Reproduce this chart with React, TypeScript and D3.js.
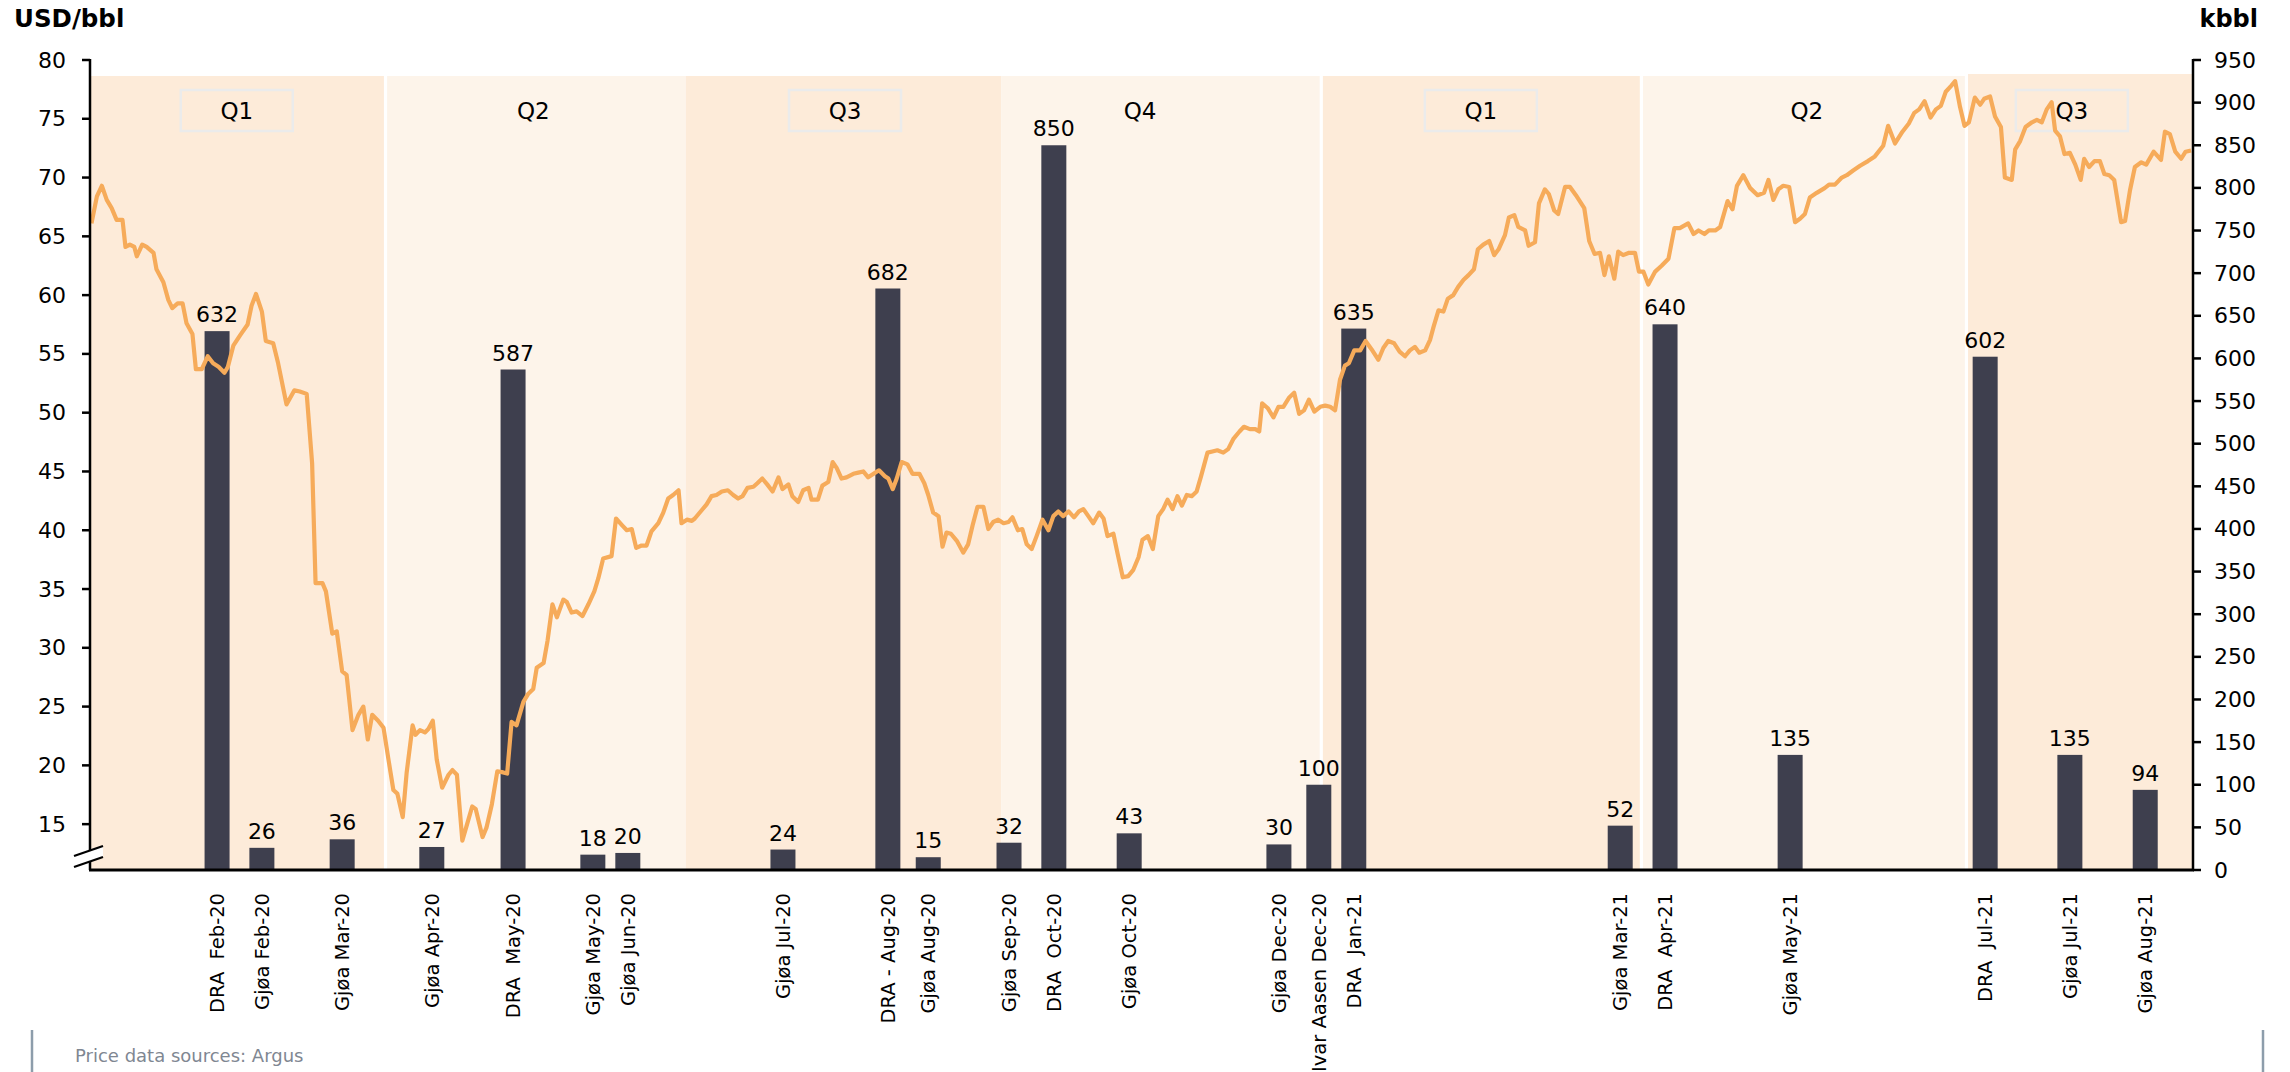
import React from "react";
import * as d3 from "d3";

const QUARTER_NAMES = ["Q1", "Q2", "Q3", "Q4", "Q1", "Q2", "Q3"];
// quarter boundaries on the trading-day index axis
const QUARTER_BOUNDS = [0, 60, 121, 185, 250, 315, 381, 427];
const QUARTER_LABEL_POS = [29.8, 90, 153.3, 213.2, 282.4, 348.6, 402.4];
const QUARTER_BOXED = [true, false, true, false, true, false, true];
const QUARTER_DARK = [true, false, true, false, true, false, true];
const QUARTER_GAP_AFTER = [true, false, false, true, true, true, false];

const CARGO_LABELS = [
  "DRA  Feb-20", "Gjøa Feb-20", "Gjøa Mar-20", "Gjøa Apr-20", "DRA  May-20",
  "Gjøa May-20", "Gjøa Jun-20", "Gjøa Jul-20", "DRA - Aug-20", "Gjøa Aug-20",
  "Gjøa Sep-20", "DRA  Oct-20", "Gjøa Oct-20", "Gjøa Dec-20", "Ivar Aasen Dec-20",
  "DRA  Jan-21", "Gjøa Mar-21", "DRA  Apr-21", "Gjøa May-21", "DRA  Jul-21",
  "Gjøa Jul-21", "Gjøa Aug-21",
];
const CARGO_POS = [
  25.8, 34.9, 51.2, 69.4, 85.9, 102.1, 109.2, 140.7, 162.0, 170.2, 186.6, 195.7,
  211.0, 241.4, 249.5, 256.6, 310.7, 319.8, 345.2, 384.8, 402.0, 417.3,
];
const CARGO_KBBL = [
  632, 26, 36, 27, 587, 18, 20, 24, 682, 15, 32, 850, 43, 30, 100, 635, 52, 640,
  135, 602, 135, 94,
];

const LEFT_TICKS = [15, 20, 25, 30, 35, 40, 45, 50, 55, 60, 65, 70, 75, 80];
const RIGHT_TICKS = [0, 50, 100, 150, 200, 250, 300, 350, 400, 450, 500, 550, 600, 650, 700, 750, 800, 850, 900, 950];

// price series: [trading-day index, USD/bbl]
const PRICE: [number, number][] = [
  [0.3,66.1],[1.4,68.4],[2.4,69.3],[3.4,68.1],[4.4,67.4],[5.4,66.4],[6.6,66.4],[7.2,64.1],[8.1,64.3],[9.0,64.1],
  [9.5,63.3],[10.6,64.3],[11.5,64.1],[12.9,63.6],[13.5,62.2],[14.9,61.1],[15.9,59.6],[16.7,58.9],[17.8,59.3],[18.8,59.3],
  [19.6,57.6],[20.8,56.7],[21.5,53.7],[22.7,53.7],[23.9,54.8],[25.0,54.2],[26.1,53.9],[27.3,53.4],[28.0,53.9],[29.1,55.7],
  [30.5,56.6],[32.0,57.5],[32.8,59.1],[33.7,60.1],[34.9,58.6],[35.7,56.1],[37.2,55.9],[38.2,54.2],[39.9,50.7],[41.5,51.9],
  [42.6,51.8],[44.0,51.6],[45.1,45.7],[45.8,35.5],[47.2,35.5],[47.9,34.8],[49.2,31.2],[50.1,31.4],[51.2,28.0],[52.1,27.7],
  [53.3,23.0],[54.5,24.3],[55.5,25.0],[56.4,22.2],[57.3,24.3],[58.5,23.8],[59.6,23.2],[60.6,20.5],[61.6,17.9],[62.4,17.6],
  [63.5,15.6],[64.3,19.4],[65.5,23.4],[66.1,22.6],[67.0,23.0],[68.0,22.8],[68.7,23.1],[69.6,23.8],[70.4,20.5],[71.5,18.1],
  [72.8,19.2],[73.6,19.6],[74.5,19.2],[75.6,13.6],[76.7,15.2],[77.6,16.5],[78.3,16.3],[79.7,13.9],[80.5,14.7],[81.6,16.7],
  [82.7,19.5],[83.9,19.4],[84.7,19.3],[85.6,23.7],[86.6,23.4],[88.0,25.4],[89.0,26.1],[90.0,26.5],[90.7,28.3],[92.1,28.7],
  [92.9,30.6],[93.9,33.7],[94.8,32.6],[96.1,34.1],[96.8,33.9],[97.8,33.0],[98.8,33.1],[100.0,32.7],[101.2,33.7],[102.4,34.8],
  [103.2,35.9],[104.2,37.6],[105.9,37.8],[106.8,41.0],[108.1,40.4],[109.0,40.0],[110.0,40.1],[110.9,38.5],[112.0,38.7],[113.0,38.7],
  [114.0,39.9],[115.4,40.6],[116.4,41.5],[117.4,42.7],[118.4,43.0],[119.5,43.4],[120.1,40.6],[121.2,40.9],[122.2,40.8],[122.8,41.0],
  [124.2,41.7],[125.2,42.2],[126.2,42.9],[127.2,43.0],[128.3,43.3],[129.5,43.4],[130.6,43.0],[131.6,42.7],[132.5,42.9],[133.5,43.6],
  [134.7,43.7],[135.5,44.0],[136.5,44.4],[137.5,43.9],[138.6,43.3],[139.8,44.5],[140.6,43.5],[141.8,43.9],[142.6,42.9],[143.8,42.4],
  [144.8,43.4],[145.9,43.6],[146.5,42.6],[147.8,42.6],[148.7,43.8],[149.9,44.1],[150.8,45.8],[151.6,45.3],[152.6,44.4],[153.6,44.5],
  [155.0,44.8],[156.0,44.9],[157.0,45.0],[158.0,44.5],[159.1,44.8],[160.2,45.1],[161.4,44.6],[162.1,44.4],[163.0,43.5],[163.8,44.4],
  [164.8,45.8],[166.0,45.6],[167.0,44.8],[168.4,44.8],[169.4,44.0],[170.2,43.0],[171.2,41.5],[172.3,41.2],[173.1,38.6],[173.9,39.8],
  [174.8,39.7],[176.0,39.1],[177.3,38.1],[178.3,38.8],[179.2,40.4],[180.2,42.0],[181.4,42.0],[182.4,40.1],[183.4,40.7],[184.4,40.9],
  [185.5,40.6],[186.5,40.7],[187.3,41.1],[188.4,40.0],[189.3,40.1],[190.2,38.8],[191.2,38.4],[192.2,39.5],[193.4,40.9],[194.6,40.0],
  [195.6,41.2],[196.6,41.6],[197.6,41.2],[198.7,41.6],[199.8,41.1],[200.8,41.6],[201.7,41.8],[202.7,41.2],[203.7,40.6],[204.9,41.5],
  [205.8,41.0],[206.6,39.5],[207.8,39.7],[208.6,38.1],[209.7,36.0],[210.8,36.1],[211.8,36.6],[212.9,37.7],[213.7,39.2],[214.8,39.5],
  [215.8,38.4],[216.9,41.2],[217.9,41.8],[218.8,42.6],[219.8,41.8],[220.8,42.9],[221.7,42.1],[222.7,43.0],[223.7,42.9],[224.7,43.3],
  [225.6,44.6],[226.9,46.6],[227.9,46.7],[228.9,46.8],[230.1,46.6],[231.1,46.9],[232.2,47.8],[233.4,48.4],[234.3,48.8],[235.5,48.6],
  [236.6,48.6],[237.4,48.4],[238.0,50.8],[239.1,50.4],[240.3,49.6],[241.3,50.5],[242.3,50.5],[243.5,51.3],[244.5,51.7],[245.5,49.9],
  [246.5,50.2],[247.5,51.1],[248.6,50.1],[249.8,50.5],[250.8,50.6],[251.8,50.5],[252.8,50.2],[253.8,52.8],[254.8,54.0],[255.6,54.2],
  [256.7,55.3],[257.9,55.3],[259.0,56.1],[260.2,55.4],[261.6,54.5],[262.6,55.5],[263.6,56.1],[264.8,55.9],[265.9,55.2],[267.0,54.8],
  [268.0,55.3],[269.0,55.6],[269.9,55.1],[271.1,55.3],[272.1,56.2],[272.8,57.3],[273.8,58.7],[274.8,58.6],[275.7,59.7],[276.8,60.0],
  [277.8,60.7],[278.9,61.3],[279.9,61.7],[281.0,62.2],[281.8,63.9],[282.9,64.3],[284.1,64.6],[285.1,63.4],[286.0,63.9],[287.3,65.1],
  [288.1,66.6],[289.2,66.8],[290.0,65.8],[291.4,65.5],[292.1,64.2],[293.4,64.5],[294.2,67.8],[295.4,69.0],[296.2,68.6],[297.3,67.2],
  [298.1,66.9],[299.5,69.2],[300.5,69.2],[301.7,68.5],[303.4,67.4],[304.4,64.6],[305.5,63.5],[306.6,63.6],[307.5,61.7],[308.4,63.3],
  [309.5,61.4],[310.3,63.7],[311.3,63.4],[312.5,63.6],[313.7,63.6],[314.5,62.0],[315.4,62.0],[316.4,60.9],[317.8,62.0],[319.1,62.5],
  [320.5,63.1],[321.7,65.7],[322.8,65.7],[324.5,66.1],[325.6,65.2],[326.6,65.5],[327.8,65.2],[328.7,65.5],[330.0,65.5],[331.0,65.8],
  [332.5,68.0],[333.5,67.3],[334.4,69.3],[335.7,70.2],[337.1,69.1],[338.6,68.5],[339.9,68.7],[340.8,69.8],[341.8,68.1],[342.8,69.0],
  [343.8,69.3],[345.0,69.2],[346.2,66.2],[347.2,66.5],[348.2,66.9],[349.2,68.3],[350.6,68.7],[352.2,69.1],[353.1,69.4],[354.3,69.4],
  [355.7,70.0],[356.7,70.2],[358.0,70.6],[359.4,71.0],[361.0,71.4],[362.4,71.8],[364.1,72.7],[365.1,74.4],[366.5,72.9],[368.0,73.9],
  [369.3,74.6],[370.4,75.5],[371.4,75.8],[372.5,76.5],[373.7,75.1],[374.8,75.8],[375.8,76.1],[376.8,77.3],[377.9,77.8],[378.7,78.2],
  [379.7,76.0],[380.6,74.4],[381.5,74.7],[382.7,76.8],[383.8,76.2],[384.6,76.7],[385.8,76.9],[386.8,75.2],[388.0,74.3],[388.8,70.0],
  [390.2,69.8],[390.9,72.4],[391.9,73.1],[393.0,74.3],[394.3,74.7],[395.3,74.9],[396.3,74.7],[397.3,75.8],[398.3,76.4],[399.0,74.0],
  [400.0,73.5],[400.9,72.0],[402.0,72.1],[403.1,71.1],[404.2,69.8],[404.9,71.6],[405.9,70.9],[407.0,71.4],[408.1,71.4],[409.0,70.3],
  [410.0,70.2],[411.0,69.8],[412.4,66.2],[413.2,66.3],[414.2,68.9],[415.2,70.9],[416.5,71.3],[417.5,71.1],[419.0,72.2],[420.5,71.5],
  [421.3,73.9],[422.3,73.7],[423.4,72.2],[424.6,71.6],[425.5,72.2],[426.6,72.3],
];

const FONT = "'DejaVu Sans', Verdana, sans-serif";
const BAND_DARK = "#fdebd9";
const BAND_LIGHT = "#fdf4ea";
const BAR_COLOR = "#3e3f4e";
const LINE_COLOR = "#f6ab5a";

export default function App() {
  const left = 90;
  const right = 2193;
  const top = 60;
  const base = 870;
  const bandTop = 76;

  const x = d3.scaleLinear().domain([0, 427]).range([left, right]);
  const yL = d3.scaleLinear().domain([11.1, 80]).range([base, top]);
  const yR = d3.scaleLinear().domain([0, 950]).range([base, top]);
  const line = d3
    .line<[number, number]>()
    .x((d) => x(d[0]))
    .y((d) => yL(d[1]));

  const barW = 25;
  const gap = 1.6;

  return (
    <svg
      width={2290}
      height={1072}
      style={{ position: "absolute", left: 0, top: 0, display: "block", background: "#fff" }}
      fontFamily={FONT}
    >
      {/* quarter bands */}
      {QUARTER_NAMES.map((q, i) => {
        const gapBefore = i > 0 && QUARTER_GAP_AFTER[i - 1];
        const x0 = x(QUARTER_BOUNDS[i]) + (gapBefore ? gap : 0);
        const x1 = x(QUARTER_BOUNDS[i + 1]) - (QUARTER_GAP_AFTER[i] ? gap : 0);
        const yt = i === 6 ? bandTop - 2 : bandTop;
        return (
          <rect
            key={"b" + i}
            x={x0}
            y={yt}
            width={x1 - x0}
            height={base - yt}
            fill={QUARTER_DARK[i] ? BAND_DARK : BAND_LIGHT}
          />
        );
      })}
      {/* quarter labels */}
      {QUARTER_NAMES.map((q, i) => {
        const cx = x(QUARTER_LABEL_POS[i]);
        return (
          <g key={"q" + i}>
            {QUARTER_BOXED[i] && (
              <rect x={cx - 56} y={90} width={112} height={41} fill="none" stroke="#ebebeb" strokeWidth={2.5} />
            )}
            <text x={cx} y={111} textAnchor="middle" dominantBaseline="central" fontSize={23} fill="#000">
              {q}
            </text>
          </g>
        );
      })}
      {/* bars */}
      {CARGO_POS.map((p, i) => (
        <rect
          key={"r" + i}
          x={x(p) - barW / 2}
          y={yR(CARGO_KBBL[i])}
          width={barW}
          height={base - yR(CARGO_KBBL[i])}
          fill={BAR_COLOR}
        />
      ))}
      {/* price line */}
      <path d={line(PRICE) || ""} fill="none" stroke={LINE_COLOR} strokeWidth={4.2} strokeLinejoin="round" />
      {/* bar value labels */}
      {CARGO_POS.map((p, i) => (
        <text key={"v" + i} x={x(p)} y={yR(CARGO_KBBL[i]) - 9} textAnchor="middle" fontSize={22} fill="#000">
          {CARGO_KBBL[i]}
        </text>
      ))}
      {/* category labels */}
      {CARGO_POS.map((p, i) => (
        <text
          key={"c" + i}
          transform={`translate(${x(p)},${base + 23}) rotate(-90)`}
          textAnchor="end"
          dy="0.36em"
          fontSize={19.5}
          fill="#000"
          style={{ whiteSpace: "pre" }}
        >
          {CARGO_LABELS[i]}
        </text>
      ))}
      {/* axes */}
      <line x1={left} x2={left} y1={top - 1} y2={base} stroke="#000" strokeWidth={2.5} />
      <line x1={right} x2={right} y1={top - 1} y2={base} stroke="#000" strokeWidth={2.5} />
      <line x1={left - 1} x2={right + 1} y1={base} y2={base} stroke="#000" strokeWidth={3} />
      {LEFT_TICKS.map((t) => (
        <g key={"lt" + t}>
          <line x1={left - 8} x2={left} y1={yL(t)} y2={yL(t)} stroke="#000" strokeWidth={2.5} />
          <text x={66} y={yL(t)} textAnchor="end" dominantBaseline="central" fontSize={22} fill="#000">
            {t}
          </text>
        </g>
      ))}
      {RIGHT_TICKS.map((t) => (
        <g key={"rt" + t}>
          <line x1={right} x2={right + 8} y1={yR(t)} y2={yR(t)} stroke="#000" strokeWidth={2.5} />
          <text x={2214} y={yR(t)} textAnchor="start" dominantBaseline="central" fontSize={22} fill="#000">
            {t}
          </text>
        </g>
      ))}
      {/* axis break */}
      <polygon points={`${left - 16},${base - 14} ${left + 13},${base - 24} ${left + 13},${base - 13} ${left - 16},${base - 3}`} fill="#fff" />
      <line x1={left - 16} y1={base - 14} x2={left + 13} y2={base - 24} stroke="#000" strokeWidth={2.2} />
      <line x1={left - 16} y1={base - 3} x2={left + 13} y2={base - 13} stroke="#000" strokeWidth={2.2} />
      {/* titles */}
      <text x={14} y={27} fontSize={24.5} fontWeight="bold" fill="#000">
        USD/bbl
      </text>
      <text x={2258} y={27} fontSize={24} fontWeight="bold" fill="#000" textAnchor="end">
        kbbl
      </text>
      {/* footer */}
      <line x1={32} x2={32} y1={1030} y2={1072} stroke="#8d9dab" strokeWidth={2.5} />
      <line x1={2263} x2={2263} y1={1030} y2={1072} stroke="#8d9dab" strokeWidth={2.5} />
      <text x={75} y={1062} fontSize={18} fill="#7f8792">
        Price data sources: Argus
      </text>
    </svg>
  );
}
